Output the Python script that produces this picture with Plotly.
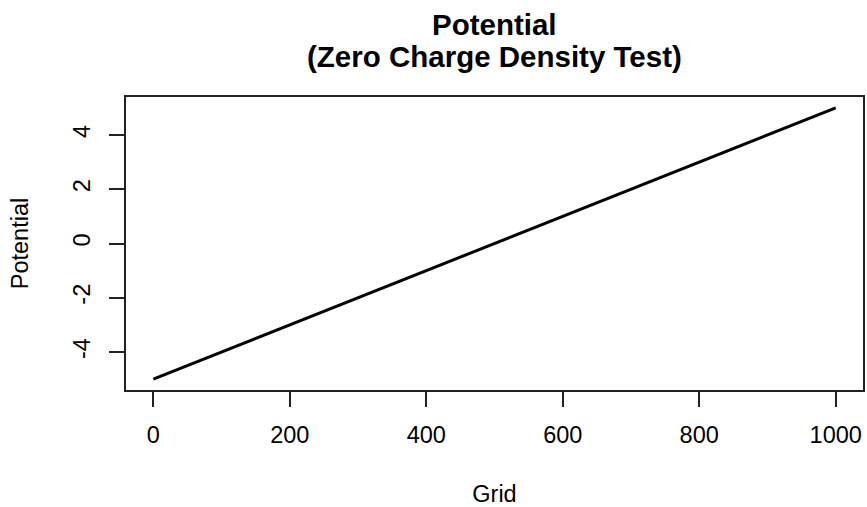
import plotly.graph_objects as go

grid = [0, 1000]
potential = [-5, 5]

x_ticks = [0, 200, 400, 600, 800, 1000]
y_ticks = [-4, -2, 0, 2, 4]

title_lines = ["Potential", "(Zero Charge Density Test)"]

FONT = "Liberation Sans, Arial, Helvetica, sans-serif"
H, T, B = 507, 97, 114
plot_h = H - T - B


def py(p):
    return (H - B - p) / plot_h


fig = go.Figure()
fig.add_trace(go.Scatter(x=grid, y=potential, mode="lines",
                         line=dict(color="black", width=3), showlegend=False))

fig.update_layout(
    width=867, height=H,
    margin=dict(l=126, r=2, t=T, b=B),
    paper_bgcolor="white", plot_bgcolor="white",
    font=dict(family=FONT, color="black", size=23.5),
)
for txt, cy in zip(title_lines, [24, 56]):
    fig.add_annotation(text="<b>%s</b>" % txt, xref="paper", yref="paper",
                       x=0.5, y=py(cy), xanchor="center", yanchor="middle",
                       showarrow=False, font=dict(size=29.5, family=FONT, color="black"))

fig.update_xaxes(range=[-40, 1040], tickvals=x_ticks, ticktext=[str(v) for v in x_ticks],
                 showgrid=False, zeroline=False, showline=True, mirror=True,
                 linecolor="#222", linewidth=1.5, ticks="outside", ticklen=15,
                 tickwidth=1.5, tickcolor="#222", tickfont=dict(size=23.5),
                 ticklabelstandoff=8,
                 title=dict(text="Grid", font=dict(size=23.5), standoff=41))
fig.update_yaxes(range=[-5.4, 5.4], tickvals=y_ticks, ticktext=[str(v) for v in y_ticks],
                 tickangle=-90,
                 showgrid=False, zeroline=False, showline=True, mirror=True,
                 linecolor="#222", linewidth=1.5, ticks="outside", ticklen=15,
                 tickwidth=1.5, tickcolor="#222", tickfont=dict(size=23.5),
                 ticklabelstandoff=10,
                 title=dict(text="Potential", font=dict(size=23.5), standoff=34))

fig.write_html("out.html")
